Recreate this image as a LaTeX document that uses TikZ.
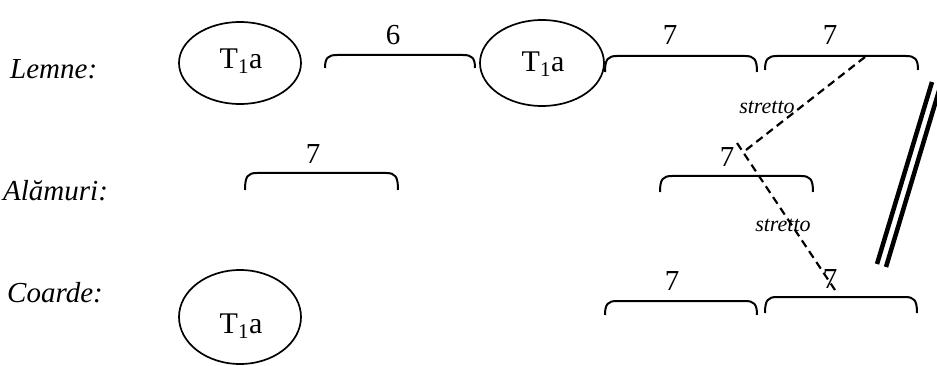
\documentclass[tikz,border=0pt]{standalone}
\usepackage{fontspec}
\setmainfont{Liberation Serif}
\begin{document}
\begin{tikzpicture}[x=1pt,y=-1pt,
  lbl/.style={inner sep=0pt,anchor=base west,font=\itshape\fontsize{29}{32}\selectfont},
  num/.style={inner sep=0pt,anchor=base,font=\fontsize{29}{32}\selectfont},
  tone/.style={inner sep=0pt,anchor=center,font=\fontsize{30}{32}\selectfont},
  strt/.style={inner sep=0pt,anchor=base,font=\itshape\fontsize{22}{26}\selectfont},
  ell/.style={draw,line width=1.7pt},
  brace/.style={draw,line width=2pt},
  dsh/.style={draw,line width=2.2pt,dash pattern=on 8pt off 5pt},
  bar/.style={draw,line width=4.5pt}]
\useasboundingbox (0,0) rectangle (937,366);
\fill[white] (0,0) rectangle (937,366);
% row labels
\node[lbl] (lemne) at (10,79) {Lemne:};
\node[lbl] (alam) at (3,201) {Alămuri:};
\node[lbl] (coarde) at (7,302) {Coarde:};
% ellipses
\draw[ell] (240,63) ellipse [x radius=61, y radius=41];
\node[tone] (t1) at (241,61) {T\textsubscript{1}a};
\draw[ell] (542,63) ellipse [x radius=62, y radius=43];
\node[tone] (t2) at (543,64) {T\textsubscript{1}a};
\draw[ell] (240,317) ellipse [x radius=61, y radius=47];
\node[tone] (t3) at (241,326) {T\textsubscript{1}a};
% braces
\foreach \xa/\xb/\yt/\yb in {325/475/55/68, 605/757/56/72, 765/918/56/70,
  245/398/173/190, 660/813/176/192, 605/757/301/315, 765/917/297/313}{
  \draw[brace] (\xa,\yb) .. controls (\xa,\yt+3) and (\xa+3,\yt) .. (\xa+12,\yt)
    -- (\xb-12,\yt) .. controls (\xb-3,\yt) and (\xb,\yt+3) .. (\xb,\yb);
}
% numbers
\node[num] (n6) at (393,45) {6};
\node[num] (n7a) at (670,45) {7};
\node[num] (n7b) at (830,45) {7};
\node[num] (n7c) at (313,164) {7};
\node[num] (n7d) at (727,167) {7};
\node[num] (n7e) at (672,290) {7};
\node[num] (n7f) at (830,288) {7};
% stretto
\coordinate (s0) at (865,57);
\coordinate (sv) at (746,150);
\coordinate (sw) at (737,143);
\coordinate (s1) at (835,290);
\draw[dsh] (s0) -- (sv);
\draw[dsh] (sw) -- (s1);
\node[strt] (st1) at (767,114) {stretto};
\node[strt] (st2) at (783,232) {stretto};
% double bar
\draw[bar] (932,82) -- (877,264);
\draw[bar] (941,84) -- (886,267);
\end{tikzpicture}
\end{document}
